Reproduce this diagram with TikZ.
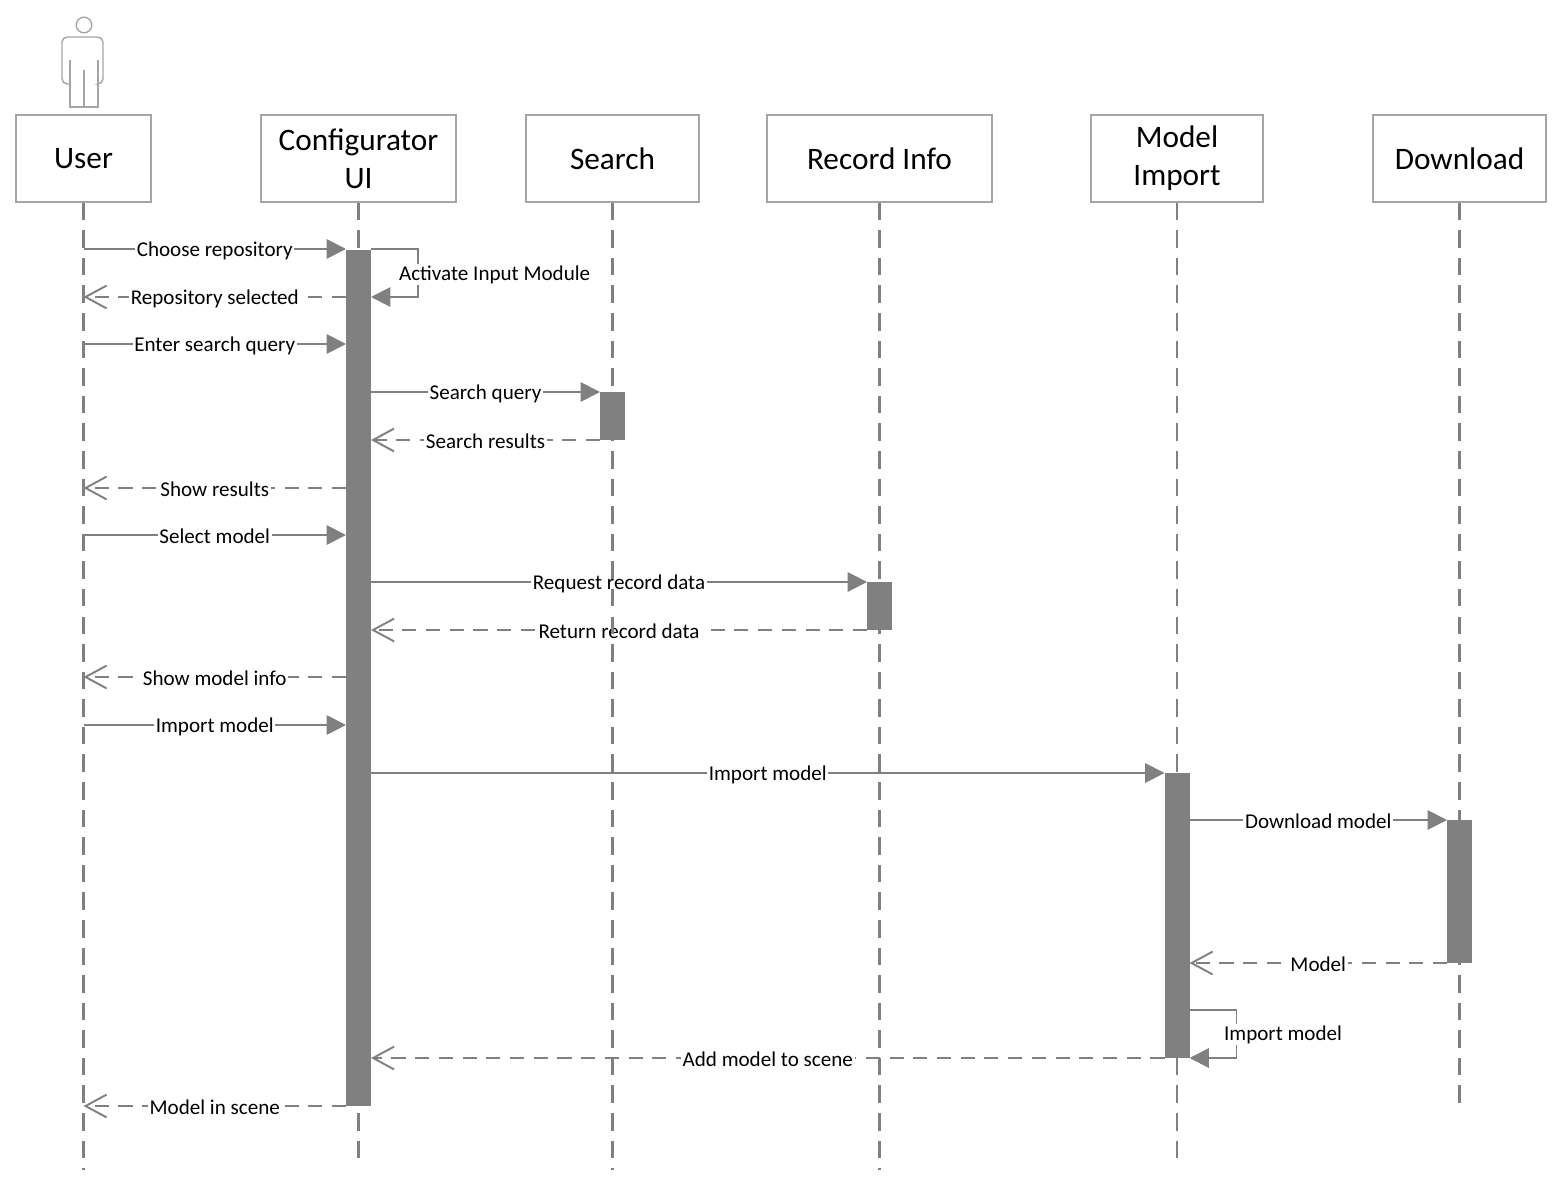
\documentclass[tikz,border=0pt]{standalone}
\usepackage{fontspec}
\setmainfont{Carlito}
\usetikzlibrary{arrows.meta}
\definecolor{umlgray}{RGB}{128,128,128}
\definecolor{boxgray}{RGB}{165,165,165}
\tikzset{
  head/.style={draw=boxgray,line width=0.85pt,fill=white,align=center,inner sep=0pt,
    minimum height=1.74cm,font=\fontsize{17.8}{21.5}\selectfont},
  life/.style={umlgray,line width=1.2pt,dash pattern=on 10pt off 5.7pt},
  bar/.style={fill=umlgray,inner sep=0pt,outer sep=0pt,minimum width=0.5cm,anchor=north},
  call/.style={umlgray,line width=1.1pt,-{Triangle[length=11pt,width=11pt]}},
  reply/.style={umlgray,line width=1.1pt,dash pattern=on 8pt off 5.5pt,-{Straight Barb[length=12pt,width=13pt]}},
  lbl/.style={fill=white,inner sep=1pt,yshift=-0.8pt,text=black,font=\fontsize{12}{14}\selectfont}
}
\begin{document}
\begin{tikzpicture}[x=0.02cm,y=-0.02cm]
        \useasboundingbox (0,0) rectangle (1561,1185);
        % actor
        \draw[boxgray,line width=0.8pt] (84,25) circle (7.8);
        \draw[boxgray,line width=0.8pt,rounded corners=3pt] (70,84)--(62,84)--(62,37)--(103,37)--(103,84)--(98,84);
        \draw[boxgray,line width=0.8pt] (70,60)--(70,107)--(98,107)--(98,60) (84,70)--(84,107);
        % heads
        \node[head,minimum width=2.7cm](user)at(83.5,158.5){User};
        \node[head,minimum width=3.9cm](cfg)at(358.5,158.5){Configurator\\UI};
        \node[head,minimum width=3.46cm](srch)at(612.5,158.5){Search};
        \node[head,minimum width=4.5cm](rec)at(879.5,158.5){Record Info};
        \node[head,minimum width=3.44cm](imp)at(1177,158.5){Model\\Import};
        \node[head,minimum width=3.46cm](dl)at(1459.5,158.5){Download};
        % activations (placed first, drawn on top later)
        \path node[bar,minimum height=17.12cm](cfgbar)at(358.5,250){}
              node[bar,minimum height=0.96cm](srchbar)at(612.5,392){}
              node[bar,minimum height=0.96cm](recbar)at(879.5,582){}
              node[bar,minimum height=5.7cm](impbar)at(1177,773){}
              node[bar,minimum height=2.86cm](dlbar)at(1459.5,820){};
        % messages
        \draw[call](user|-0,249)--(cfgbar.west|-0,249)node[lbl,midway]{Choose repository};
        \draw[call](cfgbar.east|-0,249)--++(47,0)--++(0,48)--(cfgbar.east|-0,297);
        \node[lbl,anchor=west](act)at(397,273){Activate Input Module};
        \draw[reply](cfgbar.west|-0,297)--(user|-0,297)node[lbl,midway]{Repository selected};
        \draw[call](user|-0,344)--(cfgbar.west|-0,344)node[lbl,midway]{Enter search query};
        \draw[call](cfgbar.east|-0,392)--(srchbar.west|-0,392)node[lbl,midway]{Search query};
        \draw[reply](srchbar.west|-0,440)--(cfgbar.east|-0,440)node[lbl,midway]{Search results};
        \draw[reply](cfgbar.west|-0,488)--(user|-0,488)node[lbl,midway]{Show results};
        \draw[call](user|-0,535)--(cfgbar.west|-0,535)node[lbl,midway]{Select model};
        \draw[call](cfgbar.east|-0,582)--(recbar.west|-0,582)node[lbl,midway]{Request record data};
        \draw[reply](recbar.west|-0,630)--(cfgbar.east|-0,630)node[lbl,midway]{Return record data};
        \draw[reply](cfgbar.west|-0,677)--(user|-0,677)node[lbl,midway]{Show model info};
        \draw[call](user|-0,725)--(cfgbar.west|-0,725)node[lbl,midway]{Import model};
        \draw[call](cfgbar.east|-0,773)--(impbar.west|-0,773)node[lbl,midway]{Import model};
        \draw[call](impbar.east|-0,820)--(dlbar.west|-0,820)node[lbl,midway]{Download model};
        \draw[reply](dlbar.west|-0,963)--(impbar.east|-0,963)node[lbl,midway]{Model};
        \draw[call](impbar.east|-0,1010)--++(47,0)--++(0,48)--(impbar.east|-0,1058);
        \node[lbl,anchor=west](imself)at(1222,1033){Import model};
        \draw[reply](impbar.west|-0,1058)--(cfgbar.east|-0,1058)node[lbl,midway]{Add model to scene};
        \draw[reply](cfgbar.west|-0,1106)--(user|-0,1106)node[lbl,midway]{Model in scene};
        % lifelines
        \draw[life](user.south)--(user|-0,1170);
        \draw[life](cfg.south)--(cfg|-0,1162);
        \draw[life](srch.south)--(srch|-0,1170);
        \draw[life](rec.south)--(rec|-0,1170);
        \draw[life](imp.south)--(imp|-0,1166);
        \draw[life](dl.south)--(dl|-0,1110);
        % bars on top
        \foreach \b in {cfgbar,srchbar,recbar,impbar,dlbar}
            \fill[umlgray](\b.north west)rectangle(\b.south east);
    \end{tikzpicture}
\end{document}
